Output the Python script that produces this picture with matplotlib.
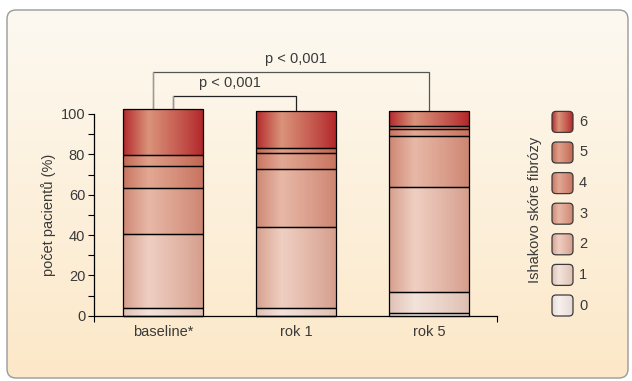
import numpy as np
import matplotlib
matplotlib.use("Agg")
import matplotlib.pyplot as plt
from matplotlib.patches import FancyBboxPatch
from matplotlib.colors import to_rgb

# ---- data ----
categories = ["baseline*", "rok 1", "rok 5"]
scores = [0, 1, 2, 3, 4, 5, 6]
score_0 = [0.0, 0.0, 1.2]
score_1 = [3.65, 3.65, 10.4]
score_2 = [36.65, 40.15, 52.0]
score_3 = [22.8, 28.8, 25.3]
score_4 = [11.0, 7.9, 3.8]
score_5 = [5.4, 2.5, 1.2]
score_6 = [22.8, 18.3, 7.4]
series = [score_0, score_1, score_2, score_3, score_4, score_5, score_6]
yticks = [0, 20, 40, 60, 80, 100]
p_label = "p < 0,001"

# (dark, light) colour pairs per score
shades = {
    0: ("#e6d9d3", "#f7f1ee"),
    1: ("#dfc0b3", "#f3e3db"),
    2: ("#d69e8c", "#efcfc2"),
    3: ("#cd8672", "#e8b8a6"),
    4: ("#c8735f", "#e2a893"),
    5: ("#c26652", "#e0a08a"),
    6: ("#b3272a", "#da937a"),
}

def gradient_img(score, n=64):
    dark = np.array(to_rgb(shades[score][0]))
    light = np.array(to_rgb(shades[score][1]))
    t = np.linspace(0, 1, n)
    f = np.where(t < 0.32, t / 0.32, 1 - (t - 0.32) / 0.68)
    f = np.clip(f, 0, 1) ** 0.9
    cols = dark[None, :] * (1 - f[:, None]) + light[None, :] * f[:, None]
    return cols[None, :, :]

W, H = 632, 381
fig = plt.figure(figsize=(W / 100, H / 100), dpi=100)
fig.patch.set_facecolor("white")
plt.rcParams["font.family"] = ["Liberation Sans", "DejaVu Sans"]
txtc = "#3a3a3a"

# ---- background panel ----
bg = fig.add_axes([0, 0, 1, 1], zorder=-5)
bg.set_xlim(0, W)
bg.set_ylim(H, 0)
bg.axis("off")
panel = FancyBboxPatch((7, 10), 621, 368, boxstyle="round,pad=0,rounding_size=9",
                       facecolor="none", edgecolor="#9a9a9a", lw=1.0, zorder=2)
bg.add_patch(panel)
top = np.array(to_rgb("#fdf9f1"))
bot = np.array(to_rgb("#fce8c8"))
tt = np.linspace(0, 1, 256)[:, None]
grad = (top[None, :] * (1 - tt) + bot[None, :] * tt)[:, None, :]
im = bg.imshow(grad, extent=(7, 628, 378, 10), aspect="auto", zorder=1)
im.set_clip_path(panel)

# ---- main axes ----
x0, x1 = 93.5, 496.7
y0, y1 = 315.7, 114.0
ax = fig.add_axes([x0 / W, (H - y0) / H, (x1 - x0) / W, (y0 - y1) / H])
ax.patch.set_alpha(0)
xpos = np.arange(len(categories))
bottom = np.zeros(len(categories))
for s, vals in zip(scores, series):
    bars = ax.bar(xpos, vals, width=0.6, bottom=bottom, facecolor="none",
                  edgecolor="black", linewidth=0.9, zorder=3, clip_on=False)
    for b in bars:
        if b.get_height() <= 0:
            continue
        bx, by, bw, bh = b.get_x(), b.get_y(), b.get_width(), b.get_height()
        ax.imshow(gradient_img(s), extent=(bx, bx + bw, by, by + bh),
                  aspect="auto", zorder=2, clip_on=False, interpolation="bilinear")
    bottom = bottom + np.array(vals)
totals = bottom

ax.set_xlim(-0.522, 2.505)
ax.set_ylim(0, 100)
for sp in ["top", "right"]:
    ax.spines[sp].set_visible(False)
ax.spines["left"].set_linewidth(0.9)
ax.spines["bottom"].set_linewidth(0.9)
ax.set_yticks(yticks)
ax.set_yticks([10, 30, 50, 70, 90], minor=True)
ax.tick_params(axis="y", which="both", length=4, width=0.8, colors="black",
               labelcolor=txtc, labelsize=10.5, pad=2)
ax.set_xticks(xpos)
ax.set_xticklabels(categories)
ax.set_xticks([-0.522, 2.505], minor=True)
ax.tick_params(axis="x", which="major", length=0, labelsize=10.5, labelcolor=txtc, pad=7)
ax.tick_params(axis="x", which="minor", length=4, width=0.8)
ax.set_ylabel("počet pacientů (%)", fontsize=10.5, color=txtc, labelpad=3)

# ---- significance brackets ----
lw = 0.9
# outer: baseline -> rok 5
ax.plot([-0.077, -0.077, 2.0, 2.0], [totals[0], 121.0, 121.0, totals[2]],
        color="#555555", lw=lw, clip_on=False, zorder=1)
ax.plot([-0.077, -0.077], [totals[0], 121.0], color="#999999", lw=lw, clip_on=False, zorder=1)
ax.text(1.0, 127.3, p_label, ha="center", va="center", fontsize=10.5, color=txtc)
# inner: baseline -> rok 1
ax.plot([0.077, 0.077, 1.0, 1.0], [totals[0], 109.1, 109.1, totals[1]],
        color="#222222", lw=lw, clip_on=False, zorder=1)
ax.plot([0.077, 0.077], [totals[0], 109.1], color="#999999", lw=lw, clip_on=False, zorder=1)
ax.text(0.503, 115.2, p_label, ha="center", va="center", fontsize=10.5, color=txtc)

# ---- legend ----
lg = fig.add_axes([0, 0, 1, 1], zorder=5)
lg.set_xlim(0, W)
lg.set_ylim(H, 0)
lg.axis("off")
cy0, step = 305.5, 30.6
for i, s in enumerate(scores):
    cy = cy0 - i * step
    bx, by, bw, bh = 552, cy - 10.5, 21, 21
    box = FancyBboxPatch((bx, by), bw, bh, boxstyle="round,pad=0,rounding_size=4",
                         facecolor="none", edgecolor="#3a3a3a", lw=0.9, zorder=3)
    lg.add_patch(box)
    gi = lg.imshow(gradient_img(s), extent=(bx, bx + bw, by + bh, by), aspect="auto",
                   zorder=2, interpolation="bilinear")
    gi.set_clip_path(box)
    lg.text(579, cy, str(s), ha="left", va="center", fontsize=10.5, color=txtc)
lg.text(535, 210, "Ishakovo skóre fibrózy", rotation=90, ha="center", va="center",
        fontsize=10.5, color=txtc)
lg.set_xlim(0, W)
lg.set_ylim(H, 0)

fig.savefig("out.png", dpi=100)
